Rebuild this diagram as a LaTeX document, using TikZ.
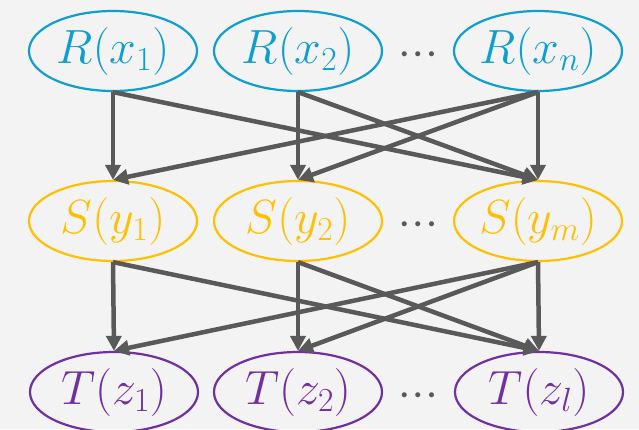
\documentclass[tikz,border=0pt]{standalone}
\usepackage{fix-cm}
\usepackage{amsmath,amssymb}
\usepackage{tikz}
\usetikzlibrary{positioning,arrows.meta,shapes.geometric}
\usepackage{xcolor}
\definecolor{rblue}{RGB}{14,158,208}
\definecolor{syellow}{RGB}{255,192,0}
\definecolor{tpurple}{RGB}{112,48,160}
\definecolor{linkgray}{RGB}{89,89,89}
\definecolor{bggray}{RGB}{243,243,243}

\begin{document}
\begin{tikzpicture}[x=1pt,y=-1pt,
    var/.style={ellipse,draw,line width=2.2pt,minimum width=168pt,minimum height=80pt,inner sep=0pt,font=\fontsize{48}{52}\selectfont},
    rvar/.style={var,draw=rblue,text=rblue},
    svar/.style={var,draw=syellow,text=syellow},
    tvar/.style={var,draw=tpurple,text=tpurple},
    dots/.style={text=linkgray,font=\fontsize{13}{15}\selectfont},
    link/.style={draw=linkgray,line width=4.5pt,-{Triangle[length=15pt,width=15pt]}}
    ]
\useasboundingbox (0,0) rectangle (639,429);
\fill[bggray] (0,0) rectangle (639,429);
\clip (0,0) rectangle (639,429);
\node[rvar] (r1) at (113,51) {$R(x_1)$};
\node[rvar] (r2) at (298,51) {$R(x_2)$};
\node[rvar] (rn) at (538,51) {$R(x_n)$};
\node[dots] (rdots) at (418,55) {$\bullet\mkern6mu\bullet\mkern6mu\bullet$};
\node[svar] (s1) at (113,221) {$S(y_1)$};
\node[svar] (s2) at (298,221) {$S(y_2)$};
\node[svar] (sm) at (538,221) {$S(y_m)$};
\node[dots] (sdots) at (418,225) {$\bullet\mkern6mu\bullet\mkern6mu\bullet$};
\node[tvar] (t1) at (114,392) {$T(z_1)$};
\node[tvar] (t2) at (298,392) {$T(z_2)$};
\node[tvar] (tl) at (539,392) {$T(z_l)$};
\node[dots] (tdots) at (418,396) {$\bullet\mkern6mu\bullet\mkern6mu\bullet$};
\foreach \a/\b in {r1/s1,r1/sm,r2/s2,r2/sm,rn/s1,rn/s2,rn/sm,
                   s1/t1,s1/tl,s2/t2,s2/tl,sm/t1,sm/t2,sm/tl}
  \draw[link] (\a.south) -- (\b.north);
\end{tikzpicture}
\end{document}
